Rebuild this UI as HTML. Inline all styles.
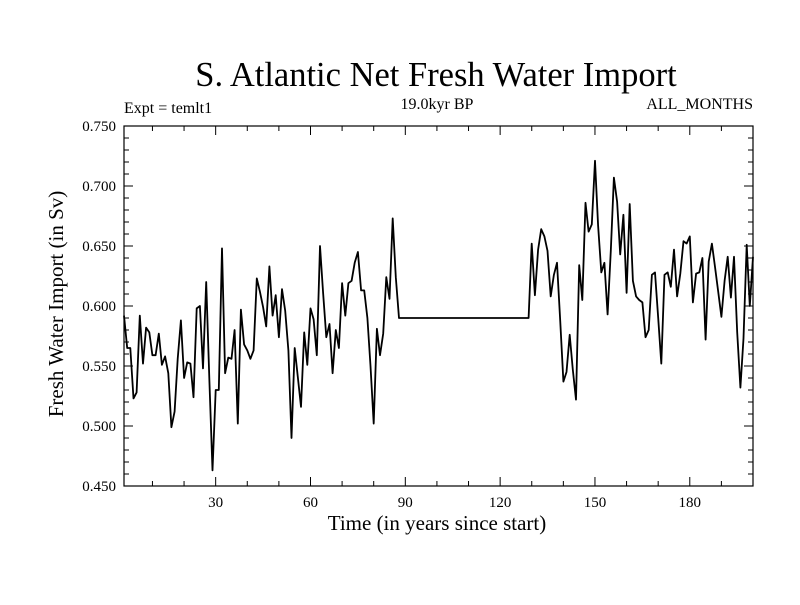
<!DOCTYPE html>
<html><head><meta charset="utf-8">
<style>
body{margin:0;background:#fff;}
svg text{font-family:"Liberation Serif",serif;fill:#000;}
</style></head>
<body>
<svg id="chart" width="800" height="600" xmlns="http://www.w3.org/2000/svg">
<rect width="800" height="600" fill="#fff"/>
<text x="436" y="86" font-size="34.5" text-anchor="middle">S. Atlantic Net Fresh Water Import</text>
<text x="124" y="113" font-size="16">Expt = temlt1</text>
<text x="437" y="109" font-size="16" text-anchor="middle">19.0kyr BP</text>
<text x="753" y="109" font-size="16" text-anchor="end">ALL_MONTHS</text>
<text x="437" y="530" font-size="21" text-anchor="middle">Time (in years since start)</text>
<text x="0" y="0" font-size="21" text-anchor="middle" transform="translate(63,304) rotate(-90)">Fresh Water Import (in Sv)</text>
<g id="axes"></g>
<g id="marks"></g>
</svg>
<script>
const yTicks=[0.450,0.500,0.550,0.600,0.650,0.700,0.750];
const xTicks=[30,60,90,120,150,180];
const years=[];for(let i=1;i<=200;i++)years.push(i);
const values=[0.592,0.565,0.565,0.523,0.528,0.592,0.552,0.582,0.578,0.559,
0.559,0.577,0.551,0.558,0.544,0.499,0.512,0.556,0.588,0.540,
0.553,0.552,0.524,0.598,0.600,0.548,0.620,0.540,0.463,0.530,
0.530,0.648,0.544,0.557,0.556,0.580,0.502,0.597,0.568,0.563,
0.556,0.563,0.623,0.612,0.599,0.583,0.633,0.592,0.609,0.574,
0.614,0.596,0.563,0.490,0.565,0.541,0.516,0.578,0.551,0.598,
0.589,0.559,0.650,0.611,0.574,0.585,0.544,0.580,0.565,0.619,
0.592,0.619,0.621,0.636,0.645,0.613,0.613,0.590,0.550,0.502,
0.581,0.559,0.577,0.624,0.606,0.673,0.624,
0.590,0.590,0.590,0.590,0.590,0.590,0.590,0.590,0.590,0.590,
0.590,0.590,0.590,0.590,0.590,0.590,0.590,0.590,0.590,0.590,
0.590,0.590,0.590,0.590,0.590,0.590,0.590,0.590,0.590,0.590,
0.590,0.590,0.590,0.590,0.590,0.590,0.590,0.590,0.590,0.590,
0.590,0.590,
0.652,0.609,0.647,0.664,0.658,0.646,0.608,0.626,0.636,0.588,
0.537,0.545,0.576,0.547,0.522,0.634,0.605,0.686,0.662,0.668,
0.721,0.667,0.628,0.636,0.593,0.646,0.707,0.687,0.643,0.676,
0.611,0.685,0.621,0.608,0.605,0.603,0.574,0.580,0.626,0.628,
0.590,0.552,0.626,0.628,0.616,0.647,0.608,0.627,0.654,0.652,
0.658,0.603,0.627,0.628,0.640,0.572,0.637,0.652,0.632,0.612,
0.591,0.621,0.641,0.607,0.641,0.578,0.532,0.573,0.651,0.600,0.641];
const X0=124,X1=753,Y0=486,Y1=126,xMin=1,xMax=200,yMin=0.45,yMax=0.75;
const sx=v=>X0+(v-xMin)/(xMax-xMin)*(X1-X0);
const sy=v=>Y0-(v-yMin)/(yMax-yMin)*(Y0-Y1);
const NS="http://www.w3.org/2000/svg";
const axes=document.getElementById('axes'),marks=document.getElementById('marks');
function mk(tag,attrs,parent){const e=document.createElementNS(NS,tag);for(const k in attrs)e.setAttribute(k,attrs[k]);parent.appendChild(e);return e;}
const frame=mk('rect',{x:X0,y:Y1,width:X1-X0,height:Y0-Y1,fill:'none',stroke:'#000','stroke-width':1.2},axes);


for(let v=0.45;v<=0.7501;v+=0.01){
 const y=sy(v);const major=Math.abs(Math.round(v*100)%5)===0;const L=major?9:5;
 const t1=mk('line',{x1:X0,x2:X0+L,y1:y,y2:y,stroke:'#000'},axes);
 
 
 const t2=mk('line',{x1:X1,x2:X1-L,y1:y,y2:y,stroke:'#000'},axes);
 
 
}
yTicks.forEach(v=>{
 const t=mk('text',{x:X0-8,y:sy(v)+5,'font-size':15,'text-anchor':'end'},axes);
 t.textContent=v.toFixed(3);
 
 
});
for(let v=10;v<=200;v+=10){
 const x=sx(v);const major=v%30===0;const L=major?9:5;
 const t1=mk('line',{x1:x,x2:x,y1:Y0,y2:Y0-L,stroke:'#000'},axes);
 
 
 const t2=mk('line',{x1:x,x2:x,y1:Y1,y2:Y1+L,stroke:'#000'},axes);
 
 
}
xTicks.forEach(v=>{
 const t=mk('text',{x:sx(v),y:Y0+21,'font-size':15,'text-anchor':'middle'},axes);
 t.textContent=v;
 
 
});
const pts=values.map((v,i)=>sx(years[i]).toFixed(1)+','+sy(v).toFixed(1)).join(' ');
const line=mk('polyline',{points:pts,fill:'none',stroke:'#000','stroke-width':1.8,'stroke-linejoin':'round'},marks);


</script>
</body></html>
